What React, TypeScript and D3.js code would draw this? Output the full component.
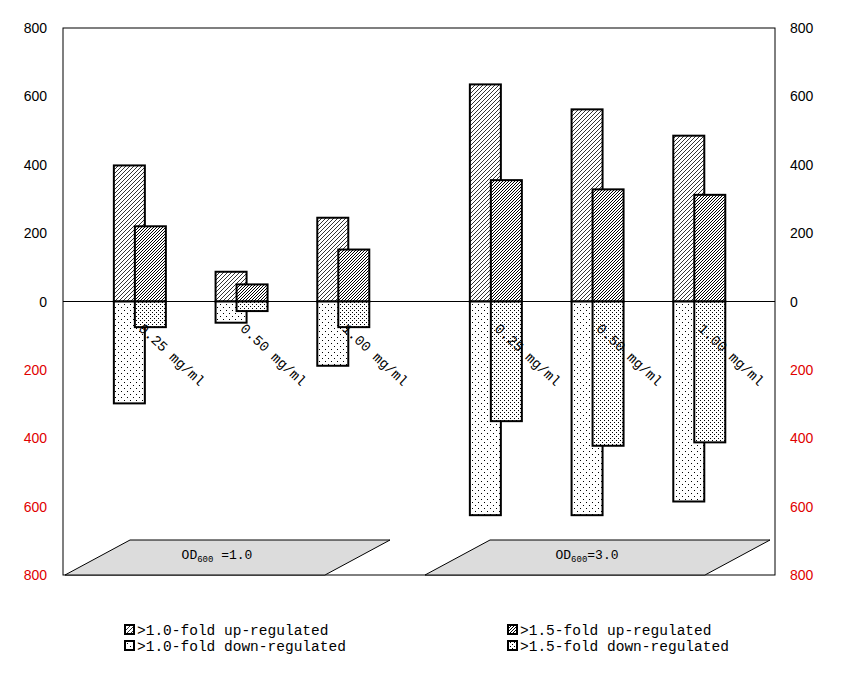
import React from "react";
import * as d3 from "d3";

const groups = ["0.25 mg/ml", "0.50 mg/ml", "1.00 mg/ml", "0.25 mg/ml", "0.50 mg/ml", "1.00 mg/ml"];
const slots = [0, 1, 2, 3.5, 4.5, 5.5];
const up10 = [398, 87, 245, 635, 562, 485];
const up15 = [220, 50, 152, 355, 328, 312];
const down10 = [298, 62, 188, 625, 625, 585];
const down15 = [75, 28, 75, 350, 422, 412];
const ticks = [-800, -600, -400, -200, 0, 200, 400, 600, 800];
const legend = [
  { label: ">1.0-fold up-regulated", fill: "url(#h1)" },
  { label: ">1.5-fold up-regulated", fill: "url(#h2)" },
  { label: ">1.0-fold down-regulated", fill: "url(#d1)" },
  { label: ">1.5-fold down-regulated", fill: "url(#d2)" },
];

const W = 845, H = 677;
const L = 63, R = 775, T = 28, B = 575;
const mono = "'Liberation Mono', 'DejaVu Sans Mono', monospace";

export default function App() {
  const y = d3.scaleLinear().domain([-800, 800]).range([B, T]);
  const x = d3.scaleLinear().domain([0, 7]).range([L, R]);
  const bw = 31;
  const off = 21;
  const bars: any[] = [];
  slots.forEach((s, i) => {
    const cx = x(s + 0.5);
    bars.push({ x: cx, v: up10[i], f: "url(#h1)" });
    bars.push({ x: cx, v: -down10[i], f: "url(#d1)" });
    bars.push({ x: cx + off, v: up15[i], f: "url(#h2)" });
    bars.push({ x: cx + off, v: -down15[i], f: "url(#d2)" });
  });
  const paras = [
    { x0: 65, x1: 325, label: "=1.0", sp: " " },
    { x0: 425, x1: 705, label: "=3.0", sp: "" },
  ];
  return (
    <svg width={W} height={H} style={{ position: "absolute", left: 0, top: 0, background: "#fff" }}>
      <defs>
        <pattern id="h1" width="4" height="4" patternUnits="userSpaceOnUse">
          <rect width="4" height="4" fill="#fff" />
          <path d="M-1,1 l2,-2 M0,4 l4,-4 M3,5 l2,-2" stroke="#000" strokeWidth="0.8" />
        </pattern>
        <pattern id="h2" width="3" height="3" patternUnits="userSpaceOnUse">
          <rect width="3" height="3" fill="#fff" />
          <path d="M-1,1 l2,-2 M0,3 l3,-3 M2,4 l2,-2" stroke="#000" strokeWidth="1" />
        </pattern>
        <pattern id="d1" width="6" height="6" patternUnits="userSpaceOnUse">
          <rect width="6" height="6" fill="#fff" />
          <rect x="1" y="1" width="1" height="1" fill="#000" />
          <rect x="4" y="4" width="1" height="1" fill="#000" />
        </pattern>
        <pattern id="d2" width="4" height="4" patternUnits="userSpaceOnUse">
          <rect width="4" height="4" fill="#fff" />
          <rect x="0" y="0" width="1" height="1" fill="#000" />
          <rect x="2" y="2" width="1" height="1" fill="#000" />
        </pattern>
      </defs>
      <rect x={L} y={T} width={R - L} height={B - T} fill="#fff" stroke="#000" strokeWidth={1} />
      {paras.map((p, i) => (
        <g key={i}>
          <polygon
            points={`${p.x0},${B} ${p.x1},${B} ${Math.min(p.x1 + 65, R)},540 ${p.x0 + 65},540`}
            fill="#dcdcdc" stroke="#000" strokeWidth={1}
          />
          <text x={(p.x0 + p.x1) / 2 + 22} y={559} textAnchor="middle" fontFamily={mono} fontSize={13}>
            OD<tspan fontSize={9} dy={3}>600</tspan><tspan dy={-3}>{p.sp + p.label}</tspan>
          </text>
        </g>
      ))}
      {bars.map((b, i) => (
        <rect key={i} x={b.x} y={y(Math.max(0, b.v))} width={bw} height={Math.abs(y(b.v) - y(0))}
          fill={b.f} stroke="#000" strokeWidth={2} />
      ))}
      <line x1={L} x2={R} y1={y(0)} y2={y(0)} stroke="#000" strokeWidth={1} />
      {slots.map((s, i) => (
        <text key={i} transform={`translate(${x(s + 0.5) + 24},${y(0) + 28}) rotate(43)`}
          fontFamily={mono} fontSize={14}>{groups[i]}</text>
      ))}
      {ticks.map((t) => (
        <g key={t} fontFamily="'Liberation Sans', Arial, sans-serif" fontSize={14} fill={t < 0 ? "#e00000" : "#000"}>
          <text x={47} y={y(t) + 5} textAnchor="end">{Math.abs(t)}</text>
          <text x={790} y={y(t) + 5}>{Math.abs(t)}</text>
        </g>
      ))}
      {legend.map((l, i) => {
        const lx = i % 2 === 0 ? 125 : 508;
        const ly = i < 2 ? 625 : 641;
        return (
          <g key={i}>
            <rect x={lx} y={ly} width={9} height={9} fill={l.fill} stroke="#000" strokeWidth={2} />
            <text x={lx + 12} y={ly + 10} fontFamily={mono} fontSize={14.5}>{l.label}</text>
          </g>
        );
      })}
    </svg>
  );
}
